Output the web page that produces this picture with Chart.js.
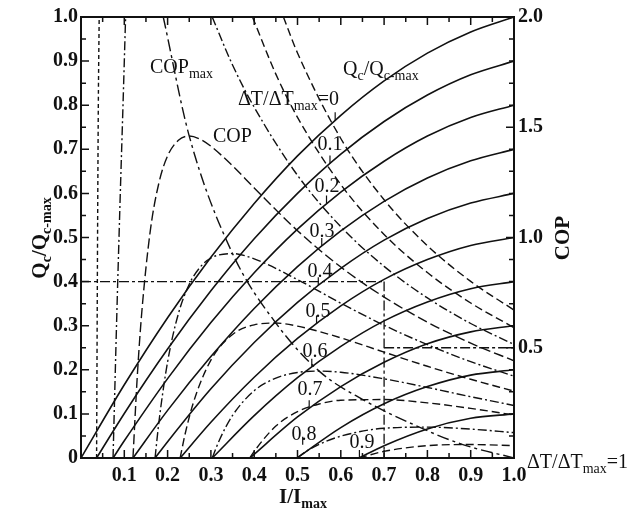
<!DOCTYPE html>
<html>
<head>
<meta charset="utf-8">
<script src="https://cdn.jsdelivr.net/npm/chart.js@4.4.1/dist/chart.umd.min.js"></script>
<style>
  html, body { margin: 0; padding: 0; background: #fff; }
  canvas { display: block; }
</style>
</head>
<body>
<canvas id="chart" width="641" height="512"></canvas>
<script>
// Tick labels
const currentTicks = [0.1, 0.2, 0.3, 0.4, 0.5, 0.6, 0.7, 0.8, 0.9, 1.0];
const coolingTicks = [0, 0.1, 0.2, 0.3, 0.4, 0.5, 0.6, 0.7, 0.8, 0.9, 1.0];
const copTicks = [0.5, 1.0, 1.5, 2.0];

// Cooling capacity Qc/Qc-max against I/Imax, one list per ΔT/ΔTmax
const qc00 = [[0,0],[0.1,0.166],[0.2,0.318],[0.3,0.455],[0.4,0.577],[0.5,0.685],[0.6,0.777],[0.7,0.855],[0.8,0.918],[0.9,0.966],[1.0,1.0]];
const qc01 = [[0.036,0],[0.1,0.101],[0.2,0.247],[0.3,0.379],[0.4,0.497],[0.5,0.600],[0.6,0.689],[0.7,0.763],[0.8,0.823],[0.9,0.869],[1.0,0.900]];
const qc02 = [[0.074,0],[0.1,0.039],[0.2,0.180],[0.3,0.307],[0.4,0.420],[0.5,0.519],[0.6,0.603],[0.7,0.673],[0.8,0.730],[0.9,0.772],[1.0,0.800]];
const qc03 = [[0.12,0],[0.2,0.108],[0.3,0.230],[0.4,0.339],[0.5,0.434],[0.6,0.515],[0.7,0.582],[0.8,0.635],[0.9,0.674],[1.0,0.700]];
const qc04 = [[0.171,0],[0.2,0.037],[0.3,0.157],[0.4,0.262],[0.5,0.353],[0.6,0.430],[0.7,0.494],[0.8,0.543],[0.9,0.578],[1.0,0.600]];
const qc05 = [[0.229,0],[0.3,0.081],[0.4,0.183],[0.5,0.271],[0.6,0.345],[0.7,0.405],[0.8,0.450],[0.9,0.482],[1.0,0.500]];
const qc06 = [[0.303,0],[0.4,0.096],[0.5,0.182],[0.6,0.253],[0.7,0.311],[0.8,0.354],[0.9,0.384],[1.0,0.400]];
const qc07 = [[0.39,0],[0.5,0.093],[0.6,0.162],[0.7,0.217],[0.8,0.259],[0.9,0.286],[1.0,0.300]];
const qc08 = [[0.499,0],[0.6,0.069],[0.7,0.123],[0.8,0.162],[0.9,0.188],[1.0,0.200]];
const qc09 = [[0.642,0],[0.7,0.028],[0.8,0.066],[0.9,0.090],[1.0,0.100]];

// COP against I/Imax (right axis), one list per ΔT/ΔTmax
const cop00 = [[0.4675,2.0],[0.5,1.837],[0.6,1.449],[0.7,1.171],[0.8,0.963],[0.9,0.801],[1.0,0.671]];
const cop01Rise = [[0.036,0],[0.038,0.9],[0.04,1.6],[0.042,2.0]];
const cop01Fall = [[0.396,2.0],[0.45,1.741],[0.5,1.545],[0.6,1.240],[0.7,1.014],[0.8,0.841],[0.9,0.703],[1.0,0.591]];
const cop02Rise = [[0.074,0],[0.082,0.6],[0.09,1.15],[0.097,1.6],[0.103,2.0]];
const cop02Fall = [[0.303,2.0],[0.35,1.782],[0.4,1.591],[0.5,1.282],[0.6,1.049],[0.7,0.869],[0.8,0.726],[0.9,0.610],[1.0,0.515]];
const cop03 = [[0.12,0],[0.13,0.371],[0.14,0.652],[0.16,1.03],[0.18,1.248],[0.2,1.37],[0.225,1.441],[0.25,1.46],[0.275,1.446],[0.3,1.414],[0.35,1.325],[0.4,1.225],[0.5,1.031],[0.6,0.866],[0.7,0.730],[0.8,0.616],[0.9,0.521],[1.0,0.441]];
const cop04 = [[0.171,0],[0.18,0.164],[0.2,0.436],[0.225,0.655],[0.25,0.788],[0.275,0.865],[0.3,0.907],[0.35,0.927],[0.4,0.903],[0.5,0.809],[0.6,0.702],[0.7,0.602],[0.8,0.514],[0.9,0.437],[1.0,0.371]];
const cop05 = [[0.229,0],[0.24,0.105],[0.26,0.254],[0.3,0.444],[0.35,0.560],[0.4,0.604],[0.45,0.612],[0.5,0.598],[0.6,0.545],[0.7,0.480],[0.8,0.416],[0.9,0.357],[1.0,0.303]];
const cop06 = [[0.303,0],[0.32,0.083],[0.35,0.193],[0.4,0.305],[0.45,0.362],[0.5,0.388],[0.55,0.394],[0.6,0.389],[0.7,0.359],[0.8,0.320],[0.9,0.278],[1.0,0.238]];
const cop07 = [[0.39,0],[0.4,0.03],[0.45,0.145],[0.5,0.21],[0.55,0.245],[0.6,0.262],[0.7,0.265],[0.8,0.25],[0.9,0.225],[1.0,0.195]];
const cop08 = [[0.499,0],[0.52,0.03],[0.55,0.062],[0.6,0.099],[0.7,0.135],[0.8,0.14],[0.9,0.131],[1.0,0.115]];
const cop09 = [[0.642,0],[0.7,0.03],[0.8,0.056],[0.9,0.061],[1.0,0.056]];

// Locus of the COP peaks
const copMax = [[0.19,2.0],[0.25,1.46],[0.35,0.927],[0.45,0.612],[0.55,0.394],[0.65,0.266],[0.78,0.141],[0.88,0.062],[1.0,0]];

// Worked example: Qc/Qc-max = 0.4 at I/Imax = 0.7 gives COP = 0.5
const exampleQc = [[0,0.4],[0.7,0.4]];
const exampleI = [[0.7,0.4],[0.7,0]];
const exampleCop = [[0.7,0.5],[1.0,0.5]];

// Curve labels and the point on each Qc line they mark
const dtLabels = ['0.1','0.2','0.3','0.4','0.5','0.6','0.7','0.8','0.9'];
const dtMarks = [[0.587,0.766],[0.575,0.668],[0.567,0.577],[0.556,0.481],[0.548,0.392],[0.544,0.305],[0.533,0.207],[0.527,0.113],[0.512,0.03],[0.643,0.0]];

const INK = '#111';
const SERIF = '"Liberation Serif", "Times New Roman", serif';

function line(points, axis, dash, width) {
  return {
    data: points.map(p => ({ x: p[0], y: p[1] })),
    yAxisID: axis,
    borderColor: INK,
    borderWidth: width || 1.6,
    borderDash: dash || [],
    pointRadius: 0,
    fill: false,
    cubicInterpolationMode: 'monotone'
  };
}

const qcCurves = [qc00, qc01, qc02, qc03, qc04, qc05, qc06, qc07, qc08, qc09];
const copCurves = [cop00, cop01Rise, cop01Fall, cop02Rise, cop02Fall, cop03, cop04, cop05, cop06, cop07, cop08, cop09];
const copDashes = [[8,4],[4,3],[8,4],[9,3,2,3],[9,3,2,3],[10,4],[9,3,2,3],[8,4],[9,3,2,3],[8,4],[9,3,2,3],[8,4]];

const datasets = [];
qcCurves.forEach(c => datasets.push(line(c, 'y', [], 1.6)));
copCurves.forEach((c, k) => datasets.push(line(c, 'cop', copDashes[k], 1.4)));
datasets.push(line(copMax, 'cop', [12,4,3,4], 1.4));
datasets.push(line(exampleQc, 'y', [10,3,3,3], 1.3));
datasets.push(line(exampleI, 'y', [10,3,3,3], 1.3));
datasets.push(line(exampleCop, 'cop', [10,3,3,3], 1.3));

// Text with subscripts: parts = [[text, isSub], ...]
function rich(ctx, parts, x, y, size, align, weight) {
  const w = weight || 'normal';
  const subSize = Math.round(size * 0.68);
  let total = 0;
  parts.forEach(p => {
    ctx.font = `${w} ${p[1] ? subSize : size}px ${SERIF}`;
    total += ctx.measureText(p[0]).width;
  });
  let cx = align === 'center' ? x - total / 2 : (align === 'right' ? x - total : x);
  ctx.textAlign = 'left';
  ctx.textBaseline = 'alphabetic';
  parts.forEach(p => {
    ctx.font = `${w} ${p[1] ? subSize : size}px ${SERIF}`;
    ctx.fillText(p[0], cx, y + (p[1] ? size * 0.25 : 0));
    cx += ctx.measureText(p[0]).width;
  });
}

const decorations = {
  id: 'decorations',
  afterDatasetsDraw(chart) {
    const { ctx, chartArea: a, scales } = chart;
    const xs = scales.x, ys = scales.y, cs = scales.cop;
    ctx.save();
    ctx.strokeStyle = INK;
    ctx.fillStyle = INK;

    // frame
    ctx.lineWidth = 2;
    ctx.strokeRect(a.left, a.top, a.right - a.left, a.bottom - a.top);

    // inward tick marks
    ctx.lineWidth = 1.5;
    ctx.beginPath();
    for (let k = 1; k < 20; k++) {
      const v = k * 0.05;
      const len = k % 2 === 0 ? 8 : 5;
      const px = xs.getPixelForValue(v);
      ctx.moveTo(px, a.bottom); ctx.lineTo(px, a.bottom - len);
      ctx.moveTo(px, a.top); ctx.lineTo(px, a.top + len);
      const py = ys.getPixelForValue(v);
      ctx.moveTo(a.left, py); ctx.lineTo(a.left + len, py);
    }
    for (let k = 1; k < 20; k++) {
      const v = k * 0.1;
      const len = k % 5 === 0 ? 8 : 5;
      const py = cs.getPixelForValue(v);
      ctx.moveTo(a.right, py); ctx.lineTo(a.right - len, py);
    }
    ctx.stroke();

    // pointers from labels to their Qc lines
    ctx.lineWidth = 1.2;
    ctx.beginPath();
    dtMarks.forEach(m => {
      const px = xs.getPixelForValue(m[0]);
      const py = ys.getPixelForValue(m[1]);
      ctx.moveTo(px, py); ctx.lineTo(px, py - 8);
    });
    ctx.stroke();

    // curve labels
    const labelPos = [[330,150],[327,192],[322,237],[320,277],[318,317],[315,357],[310,395],[304,440],[362,448]];
    dtLabels.forEach((t, k) => rich(ctx, [[t, false]], labelPos[k][0], labelPos[k][1], 20, 'center'));
    rich(ctx, [['ΔT/ΔT', false], ['max', true], ['=0', false]], 238, 105, 20, 'left');
    rich(ctx, [['COP', false], ['max', true]], 150, 73, 20, 'left');
    rich(ctx, [['COP', false]], 213, 142, 20, 'left');
    rich(ctx, [['Q', false], ['c', true], ['/Q', false], ['c-max', true]], 343, 75, 20, 'left');
    rich(ctx, [['ΔT/ΔT', false], ['max', true], ['=1', false]], 527, 468, 20, 'left');

    // axis titles
    rich(ctx, [['I/I', false], ['max', true]], 303, 503, 21, 'center', 'bold');
    ctx.save();
    ctx.translate(46, 238);
    ctx.rotate(-Math.PI / 2);
    rich(ctx, [['Q', false], ['c', true], ['/Q', false], ['c-max', true]], 0, 0, 21, 'center', 'bold');
    ctx.restore();
    ctx.save();
    ctx.translate(569, 238);
    ctx.rotate(-Math.PI / 2);
    rich(ctx, [['COP', false]], 0, 0, 21, 'center', 'bold');
    ctx.restore();

    ctx.restore();
  }
};

const tickFont = { family: SERIF, size: 20, weight: 'bold' };

new Chart(document.getElementById('chart'), {
  type: 'line',
  data: { datasets },
  options: {
    responsive: false,
    devicePixelRatio: 1,
    animation: false,
    events: [],
    layout: { padding: { top: 17, left: 0, right: 0, bottom: 0 } },
    plugins: { legend: { display: false }, tooltip: { enabled: false } },
    scales: {
      x: {
        type: 'linear', position: 'bottom', min: 0, max: 1,
        afterBuildTicks: s => { s.ticks = currentTicks.map(v => ({ value: v })); },
        afterFit: s => { s.height = 54; },
        grid: { display: false, drawTicks: false },
        border: { display: false },
        ticks: { color: INK, font: tickFont, padding: 6, maxRotation: 0, autoSkip: false,
                 callback: v => v.toFixed(1) }
      },
      y: {
        type: 'linear', position: 'left', min: 0, max: 1,
        afterBuildTicks: s => { s.ticks = coolingTicks.map(v => ({ value: v })); },
        afterFit: s => { s.width = 81; },
        grid: { display: false, drawTicks: false },
        border: { display: false },
        ticks: { color: INK, font: tickFont, padding: 3, autoSkip: false,
                 callback: v => (v === 0 ? '0' : v.toFixed(1)) }
      },
      cop: {
        type: 'linear', position: 'right', min: 0, max: 2,
        afterBuildTicks: s => { s.ticks = copTicks.map(v => ({ value: v })); },
        afterFit: s => { s.width = 127; },
        grid: { display: false, drawTicks: false },
        border: { display: false },
        ticks: { color: INK, font: tickFont, padding: 4, autoSkip: false,
                 callback: v => v.toFixed(1) }
      }
    }
  },
  plugins: [decorations]
});
</script>
</body>
</html>
